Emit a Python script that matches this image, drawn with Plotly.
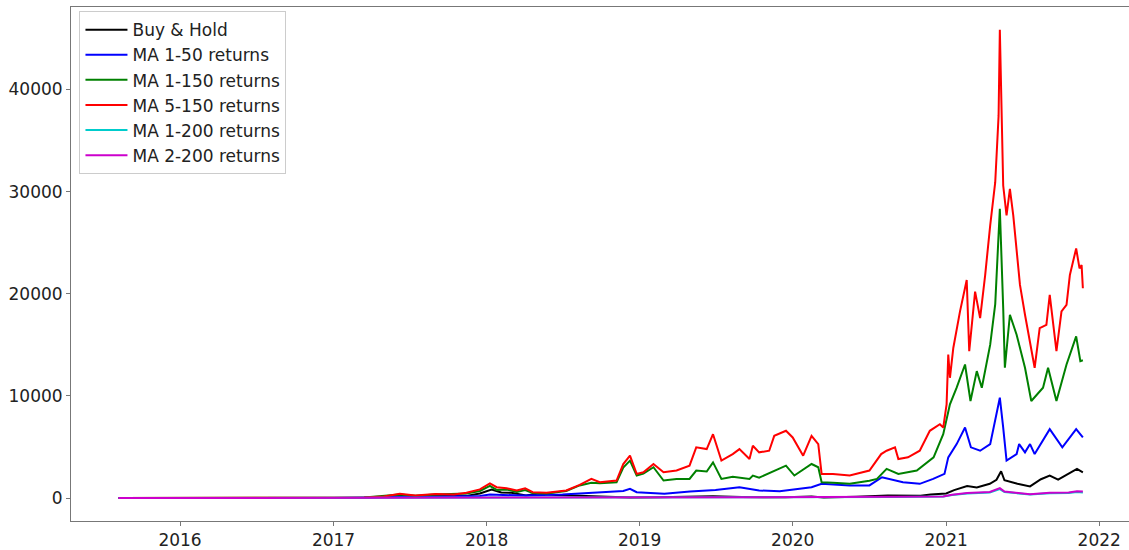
import plotly.graph_objects as go

# ---------------- data ----------------
bh_dates = ["2015-08-07", "2016-03-15", "2016-06-15", "2017-01-01", "2017-03-15", "2017-06-12",
            "2017-07-15", "2017-09-01", "2017-11-14", "2017-12-16", "2018-01-13", "2018-02-05",
            "2018-03-01", "2018-04-05", "2018-05-05", "2018-06-15", "2018-08-15", "2018-09-15",
            "2018-12-10", "2019-02-15", "2019-04-01", "2019-06-25", "2019-09-01", "2019-12-15",
            "2020-02-15", "2020-03-15", "2020-06-01", "2020-08-15", "2020-11-01", "2020-11-25",
            "2021-01-01", "2021-01-20", "2021-02-20", "2021-03-15", "2021-04-15", "2021-05-01",
            "2021-05-12", "2021-05-20", "2021-06-20", "2021-07-20", "2021-08-15", "2021-09-05",
            "2021-09-25", "2021-10-20", "2021-11-09", "2021-11-23"]
bh_vals = [1, 8, 10, 6, 30, 200, 120, 220, 220, 450, 850, 550, 530, 250, 450, 300, 200, 140,
           55, 80, 100, 180, 110, 80, 160, 70, 140, 250, 230, 350, 460, 780, 1180, 1050, 1400,
           1800, 2630, 1750, 1400, 1150, 1850, 2200, 1800, 2350, 2860, 2530]

ma150_dates = ["2015-08-07", "2016-06-01", "2017-01-01", "2017-03-15", "2017-06-08", "2017-07-15",
               "2017-09-01", "2017-11-14", "2017-12-16", "2018-01-09", "2018-01-25", "2018-02-18",
               "2018-03-14", "2018-04-03", "2018-04-21", "2018-05-24", "2018-07-10", "2018-08-11",
               "2018-09-08", "2018-09-28", "2018-11-07", "2018-11-23", "2018-12-09", "2018-12-25",
               "2019-01-10", "2019-02-03", "2019-02-27", "2019-03-30", "2019-04-30", "2019-05-16",
               "2019-06-10", "2019-06-25", "2019-07-15", "2019-08-11", "2019-09-20", "2019-09-28",
               "2019-10-13", "2019-11-18", "2019-12-16", "2020-01-05", "2020-02-15", "2020-03-02",
               "2020-03-10", "2020-04-06", "2020-05-16", "2020-07-02", "2020-07-20", "2020-08-12",
               "2020-09-09", "2020-10-23", "2020-12-02", "2020-12-25", "2021-01-10", "2021-01-26",
               "2021-02-15", "2021-02-28", "2021-03-15", "2021-03-27", "2021-04-16", "2021-04-28",
               "2021-05-09", "2021-05-17", "2021-05-21", "2021-06-02", "2021-06-18", "2021-07-08",
               "2021-07-23", "2021-08-20", "2021-09-01", "2021-09-21", "2021-10-15", "2021-11-07",
               "2021-11-17", "2021-11-23"]
ma150_vals = [1, 10, 20, 50, 350, 220, 350, 450, 700, 1200, 800, 850, 600, 800, 500, 450, 700,
              1240, 1500, 1450, 1560, 3000, 3670, 2210, 2400, 3020, 1720, 1880, 1880, 2700, 2600,
              3500, 1880, 2100, 1880, 2200, 2000, 2700, 3180, 2210, 3340, 3020, 1560, 1500, 1400,
              1700, 1880, 2860, 2370, 2700, 3990, 6260, 9180, 10810, 13080, 9510, 12430, 10810,
              15020, 19000, 28330, 18600, 12760, 17950, 16000, 12760, 9510, 10810, 12760, 9510,
              13080, 15840, 13410, 13500]

ma5150_dates = ["2015-08-07", "2016-06-01", "2017-01-01", "2017-03-15", "2017-05-01", "2017-06-08",
                "2017-07-15", "2017-09-01", "2017-10-15", "2017-11-14", "2017-12-16", "2018-01-09",
                "2018-01-25", "2018-02-18", "2018-03-14", "2018-04-03", "2018-04-21", "2018-05-24",
                "2018-07-10", "2018-08-11", "2018-09-08", "2018-09-28", "2018-11-07", "2018-11-23",
                "2018-12-09", "2018-12-25", "2019-01-10", "2019-02-03", "2019-02-27", "2019-03-30",
                "2019-04-30", "2019-05-16", "2019-06-10", "2019-06-25", "2019-07-15", "2019-08-11",
                "2019-08-27", "2019-09-20", "2019-09-28", "2019-10-13", "2019-11-06", "2019-11-18",
                "2019-12-16", "2020-01-01", "2020-01-26", "2020-02-15", "2020-03-02", "2020-03-10",
                "2020-04-06", "2020-05-16", "2020-07-02", "2020-07-30", "2020-08-12", "2020-09-01",
                "2020-09-09", "2020-10-02", "2020-10-30", "2020-11-23", "2020-12-17", "2020-12-25",
                "2021-01-02", "2021-01-06", "2021-01-10", "2021-01-18", "2021-02-03", "2021-02-19",
                "2021-02-25", "2021-03-11", "2021-03-23", "2021-04-04", "2021-04-16", "2021-04-28",
                "2021-05-02", "2021-05-06", "2021-05-09", "2021-05-17", "2021-05-25", "2021-06-02",
                "2021-06-10", "2021-06-18", "2021-06-26", "2021-07-08", "2021-07-20", "2021-07-31",
                "2021-08-12", "2021-08-28", "2021-09-05", "2021-09-13", "2021-09-21", "2021-10-03",
                "2021-10-15", "2021-10-23", "2021-11-07", "2021-11-15", "2021-11-20", "2021-11-23"]
ma5150_vals = [1, 10, 20, 60, 150, 420, 250, 400, 350, 520, 850, 1450, 1070, 970, 750, 970, 580,
               520, 750, 1300, 1880, 1560, 1720, 3340, 4160, 2370, 2530, 3340, 2530, 2700, 3180,
               4970, 4800, 6260, 3670, 4310, 4800, 3830, 5130, 4480, 4640, 6100, 6590, 5940, 4160,
               6100, 5290, 2370, 2370, 2210, 2700, 4310, 4640, 4970, 3830, 3990, 4640, 6590, 7230,
               6910, 9180, 14050, 11780, 14700, 18280, 21350, 14380, 20220, 17620, 21840, 26710,
               30930, 34180, 37420, 45860, 30600, 27680, 30280, 27680, 24440, 20870, 17950, 15360,
               12760, 16650, 16970, 19890, 17300, 14380, 18280, 18920, 21840, 24440, 22490, 22810,
               20540]

ma50_dates = ["2015-08-07", "2017-01-01", "2017-06-08", "2017-12-16", "2018-01-09", "2018-04-01",
              "2018-07-01", "2018-09-08", "2018-11-23", "2018-12-09", "2018-12-25", "2019-03-01",
              "2019-05-01", "2019-07-01", "2019-08-27", "2019-10-13", "2019-12-01", "2020-02-15",
              "2020-03-10", "2020-05-16", "2020-07-02", "2020-08-01", "2020-08-20", "2020-09-20",
              "2020-10-30", "2020-12-01", "2020-12-28", "2021-01-06", "2021-01-26", "2021-02-15",
              "2021-03-01", "2021-03-23", "2021-04-16", "2021-05-02", "2021-05-09", "2021-05-17",
              "2021-05-25", "2021-06-18", "2021-06-24", "2021-07-08", "2021-07-20", "2021-07-31",
              "2021-08-20", "2021-09-05", "2021-10-05", "2021-11-07", "2021-11-23"]
ma50_vals = [1, 10, 100, 200, 350, 250, 350, 490, 700, 910, 580, 420, 650, 800, 1070, 750, 680,
             1070, 1400, 1240, 1240, 2040, 1880, 1560, 1400, 1880, 2370, 3990, 5290, 6910, 4970,
             4640, 5290, 8540, 9830, 6910, 3670, 4310, 5290, 4480, 5290, 4310, 5620, 6750, 4970,
             6750, 5940]

ma1200_dates = ["2015-08-07", "2017-06-08", "2018-01-09", "2018-12-15", "2019-06-25", "2020-03-10",
                "2020-09-01", "2020-12-25", "2021-01-15", "2021-02-20", "2021-04-15", "2021-05-09",
                "2021-05-20", "2021-07-20", "2021-09-05", "2021-10-20", "2021-11-09", "2021-11-23"]
ma1200_vals = [1, 15, 40, 40, 60, 60, 100, 150, 300, 450, 550, 880, 600, 350, 480, 500, 600, 560]

ma2200_dates = ["2015-08-07", "2017-06-08", "2018-01-09", "2018-12-15", "2019-06-25", "2020-03-10",
                "2020-09-01", "2020-12-25", "2021-01-15", "2021-02-20", "2021-04-15", "2021-05-09",
                "2021-05-20", "2021-07-20", "2021-09-05", "2021-10-20", "2021-11-09", "2021-11-23"]
ma2200_vals = [1, 20, 60, 70, 100, 100, 140, 170, 340, 500, 600, 980, 650, 380, 530, 560, 680, 650]

series = [
    ("Buy & Hold", bh_dates, bh_vals, "black"),
    ("MA 1-50 returns", ma50_dates, ma50_vals, "blue"),
    ("MA 1-150 returns", ma150_dates, ma150_vals, "green"),
    ("MA 5-150 returns", ma5150_dates, ma5150_vals, "red"),
    ("MA 1-200 returns", ma1200_dates, ma1200_vals, "#00cccc"),
    ("MA 2-200 returns", ma2200_dates, ma2200_vals, "#cc00cc"),
]

year_ticks = ["2016-01-01", "2017-01-01", "2018-01-01", "2019-01-01",
              "2020-01-01", "2021-01-01", "2022-01-01"]
year_labels = ["2016", "2017", "2018", "2019", "2020", "2021", "2022"]
y_ticks = [0, 10000, 20000, 30000, 40000]

fig = go.Figure()
for name, d, v, c in series:
    fig.add_trace(go.Scatter(x=d, y=v, mode="lines", name=name,
                             line=dict(color=c, width=2)))

fig.update_layout(
    width=1129, height=550,
    margin=dict(l=71, r=0, t=7, b=26),
    paper_bgcolor="white", plot_bgcolor="white",
    font=dict(family="DejaVu Sans", size=17, color="#222"),
    showlegend=True,
    legend=dict(x=0.008, y=0.992, xanchor="left", yanchor="top",
                bgcolor="rgba(255,255,255,0.8)", bordercolor="#cccccc", borderwidth=1,
                itemwidth=42, font=dict(size=17, color="#222")),
)
fig.update_xaxes(
    type="date", range=["2015-04-16", "2022-03-13"],
    tickvals=year_ticks, ticktext=year_labels,
    showgrid=False, zeroline=False,
    showline=True, linecolor="#777", linewidth=1, mirror=True,
    ticks="outside", ticklen=4, tickcolor="#777",
)
fig.update_yaxes(
    range=[-2240, 48080], tickvals=y_ticks, ticktext=[str(t) for t in y_ticks],
    showgrid=False, zeroline=False,
    showline=True, linecolor="#777", linewidth=1, mirror=False,
    ticks="outside", ticklen=4, tickcolor="#777",
)

fig.write_html("out.html", config={"displayModeBar": False},
               post_script="document.body.style.margin='0';document.body.style.padding='0';"
                           "document.body.style.overflow='hidden';")
